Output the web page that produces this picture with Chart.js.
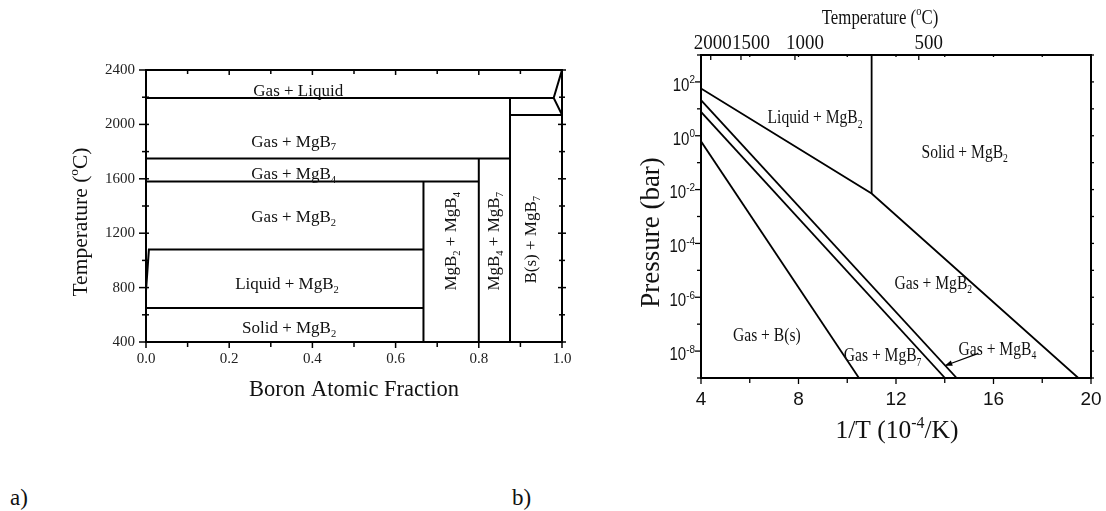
<!DOCTYPE html>
<html>
<head>
<meta charset="utf-8">
<script src="https://cdn.jsdelivr.net/npm/chart.js@4/dist/chart.umd.min.js"></script>
<style>
  html, body { margin: 0; padding: 0; background: #fff; width: 1106px; height: 511px; overflow: hidden; }
  #panelA { position: absolute; left: 0; top: 0; }
  #panelB { position: absolute; left: 600px; top: 0; }
  .tag { position: absolute; font-family: "Liberation Serif", "Times New Roman", serif; font-size: 23px; line-height: 1; color: #111; }
</style>
</head>
<body>
<canvas id="panelA" width="600" height="440"></canvas>
<canvas id="panelB" width="506" height="460"></canvas>
<div class="tag" style="left:10px; top:486px;">a)</div>
<div class="tag" style="left:512px; top:486px;">b)</div>

<script>
// ---------- (a) Mg–B phase diagram: [boron atomic fraction, temperature °C] ----------
const fracTicks = [0, 0.2, 0.4, 0.6, 0.8, 1.0];
const fracMinor = [0.1, 0.3, 0.5, 0.7, 0.9];
const tempTicks = [400, 800, 1200, 1600, 2000, 2400];
const tempMinor = [600, 1000, 1400, 1800, 2200];

const gasLiquidEdge = [[0, 2195], [0.98, 2195]];
const boronLiquidus = [[1.0, 2400], [0.98, 2195], [1.0, 2070]];
const boronSolidEdge = [[0.875, 2070], [1.0, 2070]];
const mgb7Edge = [[0, 1750], [0.875, 1750]];
const mgb7Wall = [[0.875, 2195], [0.875, 400]];
const mgb4Edge = [[0, 1580], [0.8, 1580]];
const mgb4Wall = [[0.8, 1750], [0.8, 400]];
const mgb2Wall = [[0.667, 1580], [0.667, 400]];
const mgBoilEdge = [[0, 775], [0.007, 1080], [0.667, 1080]];
const mgMeltEdge = [[0, 650], [0.667, 650]];

const regionNamesA = [
  { parts: ['Gas + Liquid'], at: [0.366, 2247] },
  { parts: ['Gas + MgB', '_7'], at: [0.355, 1877] },
  { parts: ['Gas + MgB', '_4'], at: [0.355, 1639] },
  { parts: ['Gas + MgB', '_2'], at: [0.355, 1325] },
  { parts: ['Liquid + MgB', '_2'], at: [0.339, 829] },
  { parts: ['Solid + MgB', '_2'], at: [0.344, 509] }
];
const columnNamesA = [
  { parts: ['MgB', '_2', ' + MgB', '_4'], at: [0.732, 1140] },
  { parts: ['MgB', '_4', ' + MgB', '_7'], at: [0.836, 1140] },
  { parts: ['B(s) + MgB', '_7'], at: [0.924, 1152] }
];

// ---------- (b) vapour-pressure diagram: [1/T in 1e-4 K^-1, pressure in bar] ----------
const invTTicks = [4, 8, 12, 16, 20];
const invTMinor = [6, 10, 14, 18];
const pressureExponents = [-9, -8, -7, -6, -5, -4, -3, -2, -1, 0, 1, 2, 3];
const pressureLabelled = [-8, -6, -4, -2, 0, 2];
const topTempC = [2000, 1500, 1000, 500];

const liquidGasEdge = [[4, 57], [11.0, 7.1e-3], [19.48, 1e-9]];
const meltLine = [[11.0, 7.1e-3], [11.0, 1e3]];
const mgb2mgb4Edge = [[4, 21], [14.49, 1e-9]];
const mgb4mgb7Edge = [[4, 7.7], [14.01, 1e-9]];
const mgb7boronEdge = [[4, 0.62], [10.48, 1e-9]];

const regionNamesB = [
  { parts: ['Liquid + MgB', '_2'], at: [8.68, 4.9] },
  { parts: ['Solid + MgB', '_2'], at: [14.82, 0.263] },
  { parts: ['Gas + MgB', '_2'], at: [13.53, 3.5e-6] },
  { parts: ['Gas + MgB', '_4'], at: [16.16, 1.26e-8] },
  { parts: ['Gas + MgB', '_7'], at: [11.45, 7.1e-9] },
  { parts: ['Gas + B(s)'], at: [6.70, 3.9e-8] }
];
const arrowB = [[15.38, 8.2e-9], [14.0, 2.85e-9]];

// ---------- helpers ----------
const SERIF = '"Liberation Serif", "Times New Roman", serif';
const SANS = '"Liberation Sans", Arial, sans-serif';

// Draws text made of normal / _subscript / ^superscript pieces, centred on its cap middle.
function drawRich(ctx, parts, x, y, o) {
  const size = o.size, fam = o.family, sx = o.sx || 1;
  const small = o.small || 0.62;
  const segs = parts.map(p => {
    let kind = 'n', t = p;
    if (p[0] === '_') { kind = 'sub'; t = p.slice(1); }
    else if (p[0] === '^') { kind = 'sup'; t = p.slice(1); }
    const fs = kind === 'n' ? size : size * small;
    ctx.font = fs + 'px ' + fam;
    return { t, kind, fs, w: ctx.measureText(t).width };
  });
  const total = segs.reduce((a, s) => a + s.w, 0);
  ctx.save();
  ctx.translate(x, y);
  if (o.rot) ctx.rotate(o.rot);
  ctx.scale(sx, 1);
  ctx.fillStyle = o.color || '#111';
  ctx.textBaseline = 'alphabetic';
  ctx.textAlign = 'left';
  let cx = o.align === 'right' ? -total : (o.align === 'left' ? 0 : -total / 2);
  const base = size * 0.33;
  segs.forEach(s => {
    ctx.font = s.fs + 'px ' + fam;
    const dy = s.kind === 'sub' ? size * 0.22 : (s.kind === 'sup' ? -size * 0.42 : 0);
    ctx.fillText(s.t, cx, base + dy);
    cx += s.w;
  });
  ctx.restore();
}

function lineSets(segments, width) {
  return segments.map(seg => ({
    data: seg.map(([x, y]) => ({ x, y })),
    showLine: true,
    borderColor: '#000',
    borderWidth: width,
    pointRadius: 0,
    fill: false,
    tension: 0
  }));
}

function hTicks(ctx, scale, values, yPix, len) {
  values.forEach(v => {
    const px = scale.getPixelForValue(v);
    ctx.beginPath(); ctx.moveTo(px, yPix); ctx.lineTo(px, yPix + len); ctx.stroke();
  });
}
function vTicks(ctx, scale, values, xPix, len) {
  values.forEach(v => {
    const py = scale.getPixelForValue(v);
    ctx.beginPath(); ctx.moveTo(xPix, py); ctx.lineTo(xPix + len, py); ctx.stroke();
  });
}

// ---------- panel (a) ----------
const decorA = {
  id: 'decorA',
  afterDraw(chart) {
    const { ctx, chartArea: a, scales: { x, y } } = chart;
    ctx.save();
    ctx.strokeStyle = '#000';
    ctx.lineWidth = 2;
    ctx.strokeRect(a.left, a.top, a.right - a.left, a.bottom - a.top);
    ctx.lineWidth = 1.5;
    // bottom (outward) and top (inward)
    hTicks(ctx, x, fracTicks, a.bottom, 6);
    hTicks(ctx, x, fracMinor, a.bottom, 5);
    hTicks(ctx, x, fracTicks, a.top, 5);
    hTicks(ctx, x, fracMinor, a.top, 4);
    // left and right, crossing the frame
    vTicks(ctx, y, tempTicks, a.left - 7, 10);
    vTicks(ctx, y, tempMinor, a.left - 4, 7);
    vTicks(ctx, y, tempTicks, a.right - 4, 8);
    vTicks(ctx, y, tempMinor, a.right - 3, 6);

    regionNamesA.forEach(r => drawRich(ctx, r.parts, x.getPixelForValue(r.at[0]), y.getPixelForValue(r.at[1]),
      { size: 17, family: SERIF }));
    columnNamesA.forEach(r => drawRich(ctx, r.parts, x.getPixelForValue(r.at[0]), y.getPixelForValue(r.at[1]),
      { size: 17, family: SERIF, rot: -Math.PI / 2 }));

    drawRich(ctx, ['Temperature (', '^o', 'C)'], 80, (a.top + a.bottom) / 2 + 16,
      { size: 21.5, family: SERIF, rot: -Math.PI / 2 });
    drawRich(ctx, ['Boron Atomic Fraction'], (a.left + a.right) / 2, 389,
      { size: 22.5, family: SERIF });
    ctx.restore();
  }
};

new Chart(document.getElementById('panelA'), {
  type: 'scatter',
  data: {
    datasets: lineSets([gasLiquidEdge, boronLiquidus, boronSolidEdge, mgb7Edge, mgb7Wall,
      mgb4Edge, mgb4Wall, mgb2Wall, mgBoilEdge, mgMeltEdge], 2)
  },
  options: {
    responsive: false,
    animation: false,
    events: [],
    layout: { padding: { top: 70, right: 38, left: 0, bottom: 0 } },
    plugins: { legend: { display: false }, tooltip: { enabled: false } },
    scales: {
      x: {
        type: 'linear', position: 'bottom', min: 0, max: 1,
        afterFit: s => { s.height = 98; },
        afterBuildTicks: s => { s.ticks = fracTicks.map(v => ({ value: v })); },
        ticks: { callback: v => Number(v).toFixed(1), font: { family: SERIF, size: 15 }, color: '#222',
          padding: 2, maxRotation: 0, autoSkip: false },
        grid: { display: false, drawTicks: true, tickLength: 6 },
        border: { display: false }
      },
      y: {
        type: 'linear', position: 'left', min: 400, max: 2400,
        afterFit: s => { s.width = 146; },
        afterBuildTicks: s => { s.ticks = tempTicks.map(v => ({ value: v })); },
        ticks: { callback: v => String(v), font: { family: SERIF, size: 15 }, color: '#222', padding: 5, autoSkip: false },
        grid: { display: false, drawTicks: true, tickLength: 6 },
        border: { display: false }
      }
    }
  },
  plugins: [decorA]
});

// ---------- panel (b) ----------
const decorB = {
  id: 'decorB',
  afterDraw(chart) {
    const { ctx, chartArea: a, scales: { x, y } } = chart;
    ctx.save();
    ctx.strokeStyle = '#000';
    ctx.lineWidth = 2;
    ctx.strokeRect(a.left, a.top, a.right - a.left, a.bottom - a.top);
    ctx.lineWidth = 1.3;
    const decades = pressureExponents.map(e => Math.pow(10, e));
    const labelled = pressureLabelled.map(e => Math.pow(10, e));
    const unlabelled = decades.filter(v => !labelled.includes(v));
    // bottom (outward), mirrored small ticks on top
    hTicks(ctx, x, invTTicks, a.bottom, 6);
    hTicks(ctx, x, invTMinor, a.bottom, 5);
    hTicks(ctx, x, invTTicks.concat(invTMinor), a.top, 2);
    // left (outward), right (inward)
    vTicks(ctx, y, labelled, a.left - 6, 6);
    vTicks(ctx, y, unlabelled, a.left - 4, 4);
    vTicks(ctx, y, decades, a.right, 3);
    // top temperature axis
    const tPos = topTempC.map(t => x.getPixelForValue(1e4 / (t + 273.15)));
    tPos.forEach(px => { ctx.beginPath(); ctx.moveTo(px, a.top); ctx.lineTo(px, a.top + 5); ctx.stroke(); });
    topTempC.forEach((t, i) => drawRich(ctx, [String(t)], tPos[i] + (t === 2000 ? 2 : 10), 42,
      { size: 22, family: SERIF, sx: 0.86 }));

    // pressure labels 10^n
    pressureLabelled.forEach(e => drawRich(ctx, ['10', '^' + e], a.left - 6, y.getPixelForValue(Math.pow(10, e)) + 3,
      { size: 17.5, family: SANS, align: 'right', sx: 0.86, small: 0.66 }));

    regionNamesB.forEach(r => drawRich(ctx, r.parts, x.getPixelForValue(r.at[0]), y.getPixelForValue(r.at[1]),
      { size: 19, family: SERIF, sx: 0.82 }));

    // pointer to the narrow MgB4 band
    const x0 = x.getPixelForValue(arrowB[0][0]), y0 = y.getPixelForValue(arrowB[0][1]);
    const x1 = x.getPixelForValue(arrowB[1][0]), y1 = y.getPixelForValue(arrowB[1][1]);
    ctx.lineWidth = 1.2;
    ctx.beginPath(); ctx.moveTo(x0, y0); ctx.lineTo(x1, y1); ctx.stroke();
    const ang = Math.atan2(y1 - y0, x1 - x0);
    ctx.fillStyle = '#000';
    ctx.beginPath();
    ctx.moveTo(x1, y1);
    ctx.lineTo(x1 - 8 * Math.cos(ang - 0.35), y1 - 8 * Math.sin(ang - 0.35));
    ctx.lineTo(x1 - 8 * Math.cos(ang + 0.35), y1 - 8 * Math.sin(ang + 0.35));
    ctx.closePath(); ctx.fill();

    drawRich(ctx, ['Pressure (bar)'], 50, (a.top + a.bottom) / 2 + 16,
      { size: 27, family: SERIF, rot: -Math.PI / 2 });
    drawRich(ctx, ['1/T (10', '^-4', '/K)'], 297, 430, { size: 25.5, family: SERIF, sx: 1.0 });
    drawRich(ctx, ['Temperature (', '^o', 'C)'], 280, 17, { size: 21, family: SERIF, sx: 0.8 });
    ctx.restore();
  }
};

new Chart(document.getElementById('panelB'), {
  type: 'scatter',
  data: {
    datasets: lineSets([liquidGasEdge, meltLine, mgb2mgb4Edge, mgb4mgb7Edge, mgb7boronEdge], 1.8)
  },
  options: {
    responsive: false,
    animation: false,
    events: [],
    layout: { padding: { top: 55, right: 15, left: 0, bottom: 0 } },
    plugins: { legend: { display: false }, tooltip: { enabled: false } },
    scales: {
      x: {
        type: 'linear', position: 'bottom', min: 4, max: 20,
        afterFit: s => { s.height = 82; },
        afterBuildTicks: s => { s.ticks = invTTicks.map(v => ({ value: v })); },
        ticks: { font: { family: SANS, size: 19 }, color: '#111', padding: 4, maxRotation: 0, autoSkip: false },
        grid: { display: false, drawTicks: true, tickLength: 6 },
        border: { display: false }
      },
      y: {
        type: 'logarithmic', position: 'left', min: 1e-9, max: 1e3,
        afterFit: s => { s.width = 101; },
        afterBuildTicks: s => { s.ticks = pressureExponents.map(e => ({ value: Math.pow(10, e) })); },
        ticks: { display: false },
        grid: { display: false },
        border: { display: false }
      }
    }
  },
  plugins: [decorB]
});
</script>
</body>
</html>
